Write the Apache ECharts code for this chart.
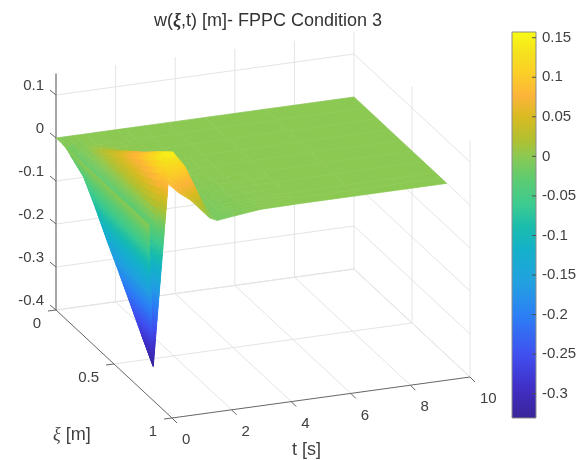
<!DOCTYPE html>
<html>
<head>
<meta charset="utf-8">
<style>html,body{margin:0;padding:0;background:#fff}#c{width:588px;height:460px}</style>
<script src="https://cdn.jsdelivr.net/npm/echarts@6/dist/echarts.min.js"></script>
</head>
<body>
<div id="c"></div>
<script>
// ---- data ----
const xiValues = [0, 0.1, 0.2, 0.3, 0.4, 0.5, 0.6, 0.7, 0.75, 0.8];
const tValues  = [0, 0.15, 0.65, 1, 1.4, 2.05, 2.3, 2.85, 3.75, 5, 7, 10];
const w00 = [0, 0, 0, 0, 0, 0, 0, 0, 0, 0, 0, 0];
const w01 = [0, -0.023, 0, 0, 0, 0, 0, 0, 0, 0, 0, 0];
const w02 = [0, -0.042, 0.016, 0.014, 0.005, 0, 0, 0, 0, 0, 0, 0];
const w03 = [0, -0.087, 0.036, 0.036, 0.015, 0, -0.001, 0, 0, 0, 0, 0];
const w04 = [0, -0.138, 0.057, 0.06, 0.03, 0.001, -0.001, -0.001, 0, 0, 0, 0];
const w05 = [0, -0.185, 0.08, 0.083, 0.05, 0.001, -0.003, -0.002, 0, 0, 0, 0];
const w06 = [0, -0.234, 0.103, 0.109, 0.075, 0.002, -0.006, -0.004, -0.001, 0, 0, 0];
const w07 = [0, -0.284, 0.132, 0.134, 0.095, 0.005, -0.01, -0.006, -0.001, 0, 0, 0];
const w075 = [0, -0.308, 0.148, 0.146, 0.109, 0.011, -0.012, -0.007, -0.001, 0, 0, 0];
const w08 = [0, -0.332, 0.088, 0.064, 0.043, -0.005, -0.013, -0.008, -0.001, 0, 0, 0];
const wRows = [w00, w01, w02, w03, w04, w05, w06, w07, w075, w08];

const zTicks = [-0.4, -0.3, -0.2, -0.1, 0, 0.1];
const zTop = 0.15;
const xiTicks = [0, 0.5, 1];
const tTicks = [0, 2, 4, 6, 8, 10];
const cbTicks = [0.15, 0.1, 0.05, 0, -0.05, -0.1, -0.15, -0.2, -0.25, -0.3];
const cbMin = -0.3307, cbMax = 0.1572;
const cmapValues = [-0.3307, -0.29, -0.25, -0.2, -0.16, -0.12, -0.09, -0.06, -0.03, 0, 0.02, 0.05, 0.076, 0.105, 0.13, 0.1572];
const cmapColors = ['#3a2498', '#4030c8', '#4050f0', '#2c80f5', '#22a0e0', '#15b0cc', '#19bcae', '#3ecb8f', '#5ccb72', '#8bc953', '#b0c030', '#d9bb22', '#fdb43a', '#fbcf26', '#f5e11e', '#f9fb15'];

const titleText = ['w(', '\u03be', ',t) [m]- FPPC Condition 3'];
const xiTitle = ['\u03be', ' [m]'];
const tTitle = 't [s]';

// ---- view (orthographic, MATLAB style) ----
const origin = [56, 138];          // xi=0, t=0, w=0
const perXi = [116, 108], perT = [29.8, -4.1], perZ = -430;
const project = (xi, t, z) => [origin[0] + perXi[0] * xi + perT[0] * t,
                               origin[1] + perXi[1] * xi + perT[1] * t + perZ * z];
const TEXT = '#404040', GRID = '#e4e4e4', AXIS = '#666666', FONT = 'Liberation Sans, Arial, sans-serif';

function colorOf(v) {
  let i = 0;
  while (i < cmapValues.length - 2 && v > cmapValues[i + 1]) i++;
  const a = cmapValues[i], b = cmapValues[i + 1];
  const f = Math.max(0, Math.min(1, (v - a) / (b - a)));
  return echarts.color.lerp(f, [cmapColors[i], cmapColors[i + 1]]);
}

// surface cells: the camera sits at large xi and small t, so far to near means t falling, xi rising
const cells = [];
for (let j = tValues.length - 2; j >= 0; j--) {
  for (let i = 0; i < xiValues.length - 1; i++) cells.push([i, j]);
}

function renderCell(params, api) {
  const i = api.value(0), j = api.value(1);
  const x0 = xiValues[i], x1 = xiValues[i + 1], t0 = tValues[j], t1 = tValues[j + 1];
  const a = wRows[i][j], b = wRows[i][j + 1], c = wRows[i + 1][j + 1], d = wRows[i + 1][j];
  const span = Math.max(a, b, c, d) - Math.min(a, b, c, d);
  const n = span === 0 ? 1 : Math.max(2, Math.min(28, Math.ceil(span / 0.012)));
  const at = (u, v) => {
    const z = a * (1 - u) * (1 - v) + b * (1 - u) * v + c * u * v + d * u * (1 - v);
    const p = project(x0 + (x1 - x0) * u, t0 + (t1 - t0) * v, z);
    return { p: api.coord(p), z };
  };
  const children = [];
  for (let s = n - 1; s >= 0; s--) for (let r = 0; r < n; r++) {
    const q = [at(r / n, s / n), at(r / n, (s + 1) / n), at((r + 1) / n, (s + 1) / n), at((r + 1) / n, s / n)];
    const col = colorOf((q[0].z + q[1].z + q[2].z + q[3].z) / 4);
    children.push({ type: 'polygon', silent: true,
      shape: { points: q.map(e => e.p) },
      style: { fill: col, stroke: col, lineWidth: 0.6 } });
  }
  return { type: 'group', children };
}

// box: grid lines, axis lines, ticks
const segs = [];
const addSeg = (a, b, color, width, off) => segs.push({ a, b, color, width, off: off || [0, 0] });
const xiMax = 1, tMax = 10, zMin = -0.4;
tTicks.filter(t => t > 0).forEach(t => {
  addSeg([0, t, zMin], [0, t, zTop], GRID, 1);
  addSeg([0, t, zMin], [xiMax, t, zMin], GRID, 1);
});
xiTicks.filter(x => x > 0).forEach(x => {
  addSeg([x, tMax, zMin], [x, tMax, zTop], GRID, 1);
});
addSeg([0, 0, zMin], [0, tMax, zMin], GRID, 1);
addSeg([0.5, 0, zMin], [0.5, tMax, zMin], GRID, 1);
zTicks.forEach(z => {
  addSeg([0, 0, z], [0, tMax, z], GRID, 1);
  addSeg([0, tMax, z], [xiMax, tMax, z], GRID, 1);
});
addSeg([0, 0, zMin], [0, 0, zTop], '#808080', 1.4);
addSeg([0, 0, zMin], [xiMax, 0, zMin], AXIS, 1);
addSeg([xiMax, 0, zMin], [xiMax, tMax, zMin], AXIS, 1);
zTicks.forEach(z => addSeg([0, 0, z], [0, 0, z], AXIS, 1, [-6, -5]));
xiTicks.forEach(x => addSeg([x, 0, zMin], [x, 0, zMin], AXIS, 1, [-8, 1]));
tTicks.forEach(t => addSeg([xiMax, t, zMin], [xiMax, t, zMin], AXIS, 1, [5, 5]));

function renderSeg(params, api) {
  const s = segs[api.value(0)];
  const p = api.coord(project(...s.a)), q = api.coord(project(...s.b));
  return { type: 'line', silent: true,
    shape: { x1: p[0], y1: p[1], x2: q[0] + s.off[0], y2: q[1] + s.off[1] },
    style: { stroke: s.color, lineWidth: s.width, fill: null } };
}

// tick labels anchored at the projected tick positions
const labels = [];
zTicks.forEach(z => labels.push({ text: String(z), at: [0, 0, z], dx: -12, dy: -9, align: 'right' }));
xiTicks.forEach(x => labels.push({ text: String(x), at: [x, 0, zMin], dx: -15, dy: 14, align: 'right' }));
tTicks.forEach(t => labels.push({ text: String(t), at: [xiMax, t, zMin], dx: 10, dy: 22, align: 'left' }));
function renderLabel(params, api) {
  const l = labels[api.value(0)];
  const p = api.coord(project(...l.at));
  return { type: 'text', silent: true,
    style: { text: l.text, x: p[0] + l.dx, y: p[1] + l.dy, align: l.align, verticalAlign: 'middle',
             fill: TEXT, font: '15px ' + FONT } };
}

const cbStops = cmapValues.map((v, i) => ({ offset: (v - cbMin) / (cbMax - cbMin), color: cmapColors[i] }));
function renderBar(params, api) {
  const p = api.coord([0, cbMax]), q = api.coord([1, cbMin]);
  const children = [{ type: 'rect', silent: true,
    shape: { x: p[0], y: p[1], width: q[0] - p[0], height: q[1] - p[1] },
    style: { fill: new echarts.graphic.LinearGradient(0, 1, 0, 0, cbStops), stroke: '#8c8c8c', lineWidth: 1 } }];
  cbTicks.forEach(v => {
    const c = api.coord([1, v]);
    children.push({ type: 'line', silent: true,
      shape: { x1: c[0], y1: c[1], x2: c[0] - 4, y2: c[1] },
      style: { stroke: '#505050', lineWidth: 1 } });
  });
  return { type: 'group', children };
}

const chart = echarts.init(document.getElementById('c'), null, { renderer: 'canvas' });
chart.setOption({
  animation: false,
  backgroundColor: '#fff',
  title: {
    left: 263, top: 7, textAlign: 'center',
    text: '{a|' + titleText[0] + '}{i|' + titleText[1] + '}{a|' + titleText[2] + '}',
    textStyle: { rich: {
      a: { fontFamily: FONT, fontSize: 18, color: '#333', fontWeight: 'normal' },
      i: { fontFamily: 'Liberation Serif', fontStyle: 'italic', fontSize: 18, color: '#333' }
    } }
  },
  graphic: [
    { type: 'text', left: 53, top: 426, silent: true, style: {
      rich: { i: { fontFamily: 'Liberation Serif', fontStyle: 'italic', fontSize: 18, fill: TEXT },
              a: { fontFamily: FONT, fontSize: 18, fill: TEXT } },
      text: '{i|' + xiTitle[0] + '}{a|' + xiTitle[1] + '}' } },
    { type: 'text', left: 292, top: 441, silent: true, style: { text: tTitle, font: '18px ' + FONT, fill: TEXT } }
  ],
  grid: [
    { left: 0, top: 0, width: 588, height: 460 },
    { left: 512, top: 32, width: 24, height: 386 }
  ],
  xAxis: [
    { gridIndex: 0, type: 'value', min: 0, max: 588, show: false },
    { gridIndex: 1, type: 'value', min: 0, max: 1, show: false }
  ],
  yAxis: [
    { gridIndex: 0, type: 'value', min: 0, max: 460, inverse: true, show: false },
    { gridIndex: 1, type: 'value', min: cbMin, max: cbMax, position: 'right', z: 20,
      axisLine: { show: false }, splitLine: { show: false }, axisTick: { show: false },
      axisLabel: { show: true, margin: 6, customValues: cbTicks, color: TEXT, fontSize: 15, fontFamily: FONT,
        formatter: v => String(v), hideOverlap: false, showMinLabel: true, showMaxLabel: true } }
  ],
  series: [
    { type: 'custom', name: 'box', xAxisIndex: 0, yAxisIndex: 0, clip: false, z: 1, silent: true,
      data: segs.map((s, i) => [i]), encode: { x: 0, y: 0 }, renderItem: renderSeg },
    { type: 'custom', name: 'w', xAxisIndex: 0, yAxisIndex: 0, clip: false, z: 2, silent: true,
      data: cells, encode: { x: 0, y: 1 }, renderItem: renderCell, progressive: 0 },
    { type: 'custom', name: 'ticks', xAxisIndex: 0, yAxisIndex: 0, clip: false, z: 3, silent: true,
      data: labels.map((l, i) => [i]), encode: { x: 0, y: 0 }, renderItem: renderLabel },
    { type: 'custom', name: 'colorbar', xAxisIndex: 1, yAxisIndex: 1, clip: false, z: 1, silent: true,
      data: [[0, cbMin]], encode: { x: 0, y: 1 }, renderItem: renderBar }
  ]
});
</script>
</body>
</html>
